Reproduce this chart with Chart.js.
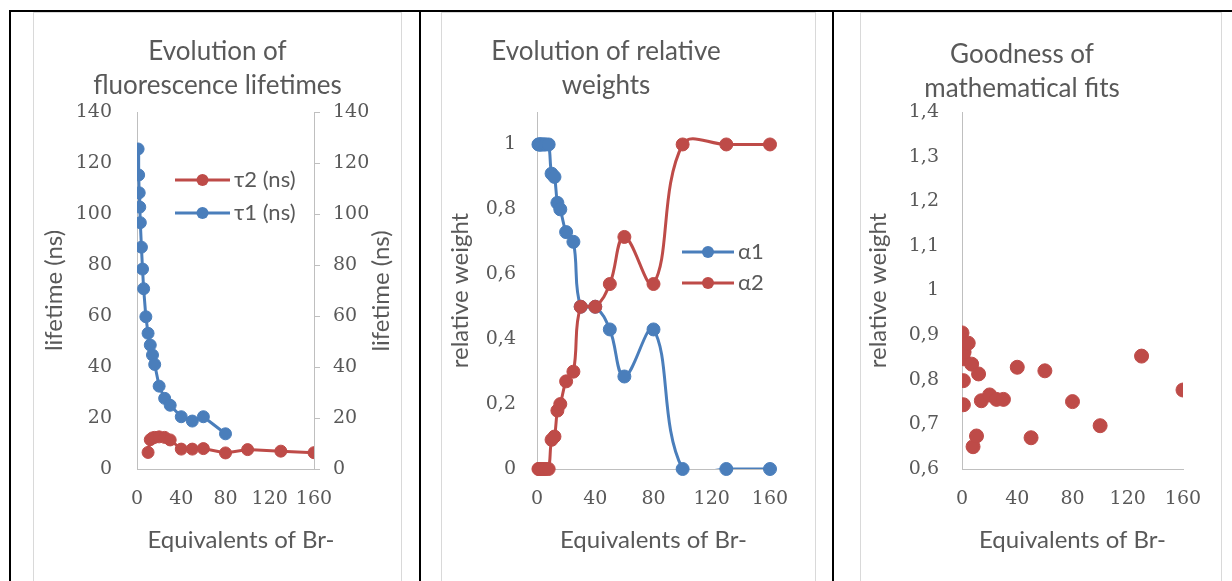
<!DOCTYPE html>
<html>
<head>
<meta charset="utf-8">
<script src="https://cdn.jsdelivr.net/npm/chart.js@4.4.1/dist/chart.umd.min.js"></script>
<style>
  html, body { margin: 0; padding: 0; background: #fff; }
  body { width: 1232px; height: 581px; overflow: hidden; position: relative; }
  .rule { position: absolute; background: #000; }
  .panel { position: absolute; top: 12px; height: 600px; border: 1px solid #d9d9d9; box-sizing: border-box; background: #fff; }
  .panel canvas { position: absolute; left: 0; top: 0; }
</style>
</head>
<body>
<div class="rule" style="left:9px;top:10px;width:1223px;height:2px"></div>
<div class="rule" style="left:9px;top:10px;width:2px;height:571px"></div>
<div class="rule" style="left:419px;top:10px;width:2px;height:571px"></div>
<div class="rule" style="left:832px;top:10px;width:2px;height:571px"></div>

<div class="panel" style="left:33px;width:369px"><canvas id="lifetimes" width="367" height="568"></canvas></div>
<div class="panel" style="left:441px;width:375px"><canvas id="weights" width="373" height="568"></canvas></div>
<div class="panel" style="left:860px;width:362px"><canvas id="fits" width="360" height="568"></canvas></div>

<script>
// ---------------- DATA ----------------
const equivalents = [1, 1.5, 2, 2.5, 3, 4, 5, 6, 8, 10, 12, 14, 16, 20, 25, 30, 40, 50, 60, 80, 100, 130, 160];
const tau1 = [125.5, 115.3, 108.3, 102.7, 96.6, 87, 78.4, 70.7, 59.7, 53.2, 48.6, 44.7, 41, 32.5, 27.7, 25, 20.5, 18.8, 20.5, 13.8, null, null, null];
const tau2 = [null, null, null, null, null, null, null, null, null, 6.5, 11.5, 12.2, 12.4, 12.6, 12.4, 11.4, 7.8, 7.8, 8, 6.3, 7.6, 7, 6.4];
const alpha1 = [1, 1, 1, 1, 1, 1, 1, 1, 1, 0.91, 0.9, 0.82, 0.8, 0.73, 0.7, 0.5, 0.5, 0.43, 0.285, 0.43, 0, 0, 0];
const alpha2 = [0, 0, 0, 0, 0, 0, 0, 0, 0, 0.09, 0.1, 0.18, 0.2, 0.27, 0.3, 0.5, 0.5, 0.57, 0.715, 0.57, 1, 1, 1];

const fitEquivalents = [0, 0.5, 1, 1, 1, 1.5, 4.5, 7, 8, 10.5, 12, 14, 20, 25, 30, 40, 50, 60, 80, 100, 130, 160];
const fitQuality = [0.905, 0.858, 0.847, 0.798, 0.744, 0.862, 0.882, 0.835, 0.65, 0.674, 0.813, 0.753, 0.766, 0.756, 0.756, 0.828, 0.67, 0.82, 0.751, 0.697, 0.853, 0.777];

const equivTicks = [0, 40, 80, 120, 160];
const lifetimeTicks = [0, 20, 40, 60, 80, 100, 120, 140];
const weightTicks = [0, 0.2, 0.4, 0.6, 0.8, 1];
const fitTicks = [0.6, 0.7, 0.8, 0.9, 1, 1.1, 1.2, 1.3, 1.4];

// ---------------- STYLE ----------------
const grey = "#595959";
const axisGrey = "#bfbfbf";
const blue = "#4a7ebb";
const red = "#be4b48";
const tickFont = { family: "'DejaVu Serif'", size: 19 };
const textFont = { family: "Lato, 'DejaVu Sans'", size: 24 };

function pairs(xs, ys) {
  return xs.map((x, i) => ({ x: x, y: ys[i] })).filter(p => p.y !== null);
}
function comma(v) {
  return String(Math.round(v * 10) / 10).replace(".", ",");
}
function fixedTicks(values) {
  return scale => { scale.ticks = values.map(v => ({ value: v })); };
}

// legend drawn inside the plot, Excel style (line + marker + text)
const sampleLegend = {
  id: "sampleLegend",
  afterDraw(chart, args, opts) {
    const ctx = chart.ctx;
    const a = chart.chartArea;
    ctx.save();
    ctx.font = opts.font;
    ctx.textBaseline = "middle";
    opts.items.forEach((idx, i) => {
      const ds = chart.data.datasets[idx];
      const x = a.left + opts.x;
      const y = a.top + opts.y + i * opts.gap;
      ctx.strokeStyle = ds.borderColor;
      ctx.lineWidth = 3;
      ctx.beginPath();
      ctx.moveTo(x, y);
      ctx.lineTo(x + opts.len, y);
      ctx.stroke();
      ctx.fillStyle = ds.borderColor;
      ctx.beginPath();
      ctx.arc(x + opts.len / 2, y, opts.radius, 0, Math.PI * 2);
      ctx.fill();
      ctx.fillStyle = grey;
      ctx.fillText(ds.label, x + opts.len + 4, y);
    });
    ctx.restore();
  }
};

// free axis titles (right axis reads bottom-to-top like Excel)
const extraText = {
  id: "extraText",
  afterDraw(chart, args, opts) {
    const ctx = chart.ctx;
    ctx.save();
    ctx.font = opts.font;
    ctx.fillStyle = grey;
    ctx.textAlign = "center";
    ctx.textBaseline = "middle";
    opts.items.forEach(t => {
      ctx.save();
      ctx.translate(t.x, t.y);
      if (t.rotate) ctx.rotate(-Math.PI / 2);
      ctx.fillText(t.text, 0, 0);
      ctx.restore();
    });
    ctx.restore();
  }
};

function xAxis(showTitle) {
  return {
    type: "linear", min: 0, max: 160,
    afterBuildTicks: fixedTicks(equivTicks),
    afterFit: s => { s.height = 112; },
    grid: { display: false, drawTicks: false },
    border: { color: axisGrey, width: 1 },
    ticks: { font: tickFont, color: grey, padding: 19, maxRotation: 0, autoSkip: false },
    title: { display: showTitle, text: "Equivalents of Br-", font: textFont, color: grey, padding: { bottom: 26 } }
  };
}

function titleOpts(lines, padTop) {
  return {
    display: true, text: lines, color: grey,
    font: { family: textFont.family, size: 26, weight: "normal", lineHeight: "34px" },
    padding: { top: padTop, bottom: 99 - padTop - 68 }
  };
}

// ---------------- LIFETIMES ----------------
const lineStyle = (color) => ({
  borderColor: color, backgroundColor: color, borderWidth: 3,
  pointRadius: 6, pointBorderWidth: 1, pointBackgroundColor: color, pointBorderColor: color
});

new Chart(document.getElementById("lifetimes"), {
  type: "line",
  data: {
    datasets: [
      Object.assign({ label: "τ2 (ns)", data: pairs(equivalents, tau2), yAxisID: "y2", tension: 0 }, lineStyle(red)),
      Object.assign({ label: "τ1 (ns)", data: pairs(equivalents, tau1), yAxisID: "y", tension: 0 }, lineStyle(blue))
    ]
  },
  options: {
    responsive: false, animation: false,
    layout: { padding: 0 },
    plugins: {
      legend: { display: false }, tooltip: { enabled: false },
      title: titleOpts(["Evolution of", "fluorescence lifetimes"], 22),
      sampleLegend: { items: [0, 1], x: 38, y: 68, gap: 33, len: 55, radius: 6, font: "22px Lato, 'DejaVu Sans'" },
      extraText: { font: "24px Lato, 'DejaVu Sans'", items: [
        { text: "lifetime (ns)", x: 347, y: 278, rotate: true },
        { text: "Equivalents of Br-", x: 207, y: 527 }
      ] }
    },
    scales: {
      x: xAxis(false),
      y: {
        position: "left", min: 0, max: 140,
        afterBuildTicks: fixedTicks(lifetimeTicks),
        afterFit: s => { s.width = 103; },
        grid: { display: false, drawTicks: false },
        border: { color: axisGrey },
        ticks: { font: tickFont, color: grey, padding: 25 },
        title: { display: true, text: "lifetime (ns)", font: textFont, color: grey, padding: { top: 6 } }
      },
      y2: {
        position: "right", min: 0, max: 140,
        afterBuildTicks: fixedTicks(lifetimeTicks),
        afterFit: s => { s.width = 87; },
        grid: { display: true, drawOnChartArea: false, drawTicks: true, tickLength: 6, color: axisGrey },
        border: { color: axisGrey },
        ticks: { font: tickFont, color: grey, padding: 13 }
      }
    }
  },
  plugins: [sampleLegend, extraText]
});

// ---------------- RELATIVE WEIGHTS ----------------
// lines clipped to the plot like Excel, markers drawn unclipped
const smoothLine = (label, ys, color, order) => Object.assign({
  label: label, data: pairs(equivalents, ys), tension: 0.4, cubicInterpolationMode: "default",
  order: order, clip: 0
}, lineStyle(color), { pointRadius: 0 });
const markers = (label, ys, color, order) => Object.assign({
  label: label, data: pairs(equivalents, ys), showLine: false, order: order, clip: false
}, lineStyle(color), { pointRadius: 6.5 });

new Chart(document.getElementById("weights"), {
  type: "line",
  data: {
    datasets: [
      smoothLine("α1", alpha1, blue, 4),
      smoothLine("α2", alpha2, red, 2),
      markers("α1", alpha1, blue, 3),
      markers("α2", alpha2, red, 1)
    ]
  },
  options: {
    responsive: false, animation: false,
    layout: { padding: { right: 45 } },
    elements: { line: { capBezierPoints: false } },
    plugins: {
      legend: { display: false }, tooltip: { enabled: false },
      title: titleOpts(["Evolution of relative", "weights"], 22),
      sampleLegend: { items: [0, 1], x: 145, y: 140, gap: 31, len: 52, radius: 6, font: "22px Lato, 'DejaVu Sans'" }
    },
    scales: {
      x: xAxis(true),
      y: {
        min: 0, max: 1.1,
        afterBuildTicks: fixedTicks(weightTicks),
        afterFit: s => { s.width = 95; },
        grid: { display: false, drawTicks: false },
        border: { color: axisGrey },
        ticks: { font: tickFont, color: grey, padding: 21, callback: v => comma(v) },
        title: { display: true, text: "relative weight", font: textFont, color: grey, padding: { top: 4 } }
      }
    }
  },
  plugins: [sampleLegend]
});

// ---------------- GOODNESS OF FITS ----------------
new Chart(document.getElementById("fits"), {
  type: "scatter",
  data: {
    datasets: [{
      label: "fit", data: pairs(fitEquivalents, fitQuality),
      pointRadius: 7, pointBorderWidth: 1, backgroundColor: red, borderColor: red
    }]
  },
  options: {
    responsive: false, animation: false,
    layout: { padding: { right: 38 } },
    plugins: {
      legend: { display: false }, tooltip: { enabled: false },
      title: titleOpts(["Goodness of", "mathematical fits"], 25)
    },
    scales: {
      x: xAxis(true),
      y: {
        min: 0.6, max: 1.4,
        afterBuildTicks: fixedTicks(fitTicks),
        afterFit: s => { s.width = 101; },
        grid: { display: false, drawTicks: false },
        border: { color: axisGrey },
        ticks: { font: tickFont, color: grey, padding: 23, callback: v => comma(v) },
        title: { display: true, text: "relative weight", font: textFont, color: grey, padding: { top: 3 } }
      }
    }
  }
});
</script>
</body>
</html>
